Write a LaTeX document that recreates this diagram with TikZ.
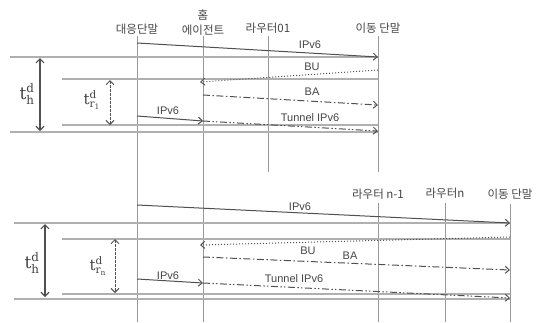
\documentclass[tikz,border=0pt]{standalone}
\usepackage{amsmath}
\usepackage[no-math]{fontspec}
\setmainfont{Liberation Sans}
\newfontfamily\kr{Noto Sans CJK KR}
\newfontfamily\dvs{DejaVu Serif}
\newcommand{\sv}[1]{\text{\dvs #1}}
\usetikzlibrary{arrows.meta}
\definecolor{txt}{HTML}{444444}
\definecolor{ln}{HTML}{999999}
\definecolor{hl}{HTML}{B0B0B0}
\definecolor{ar}{HTML}{505050}
\tikzset{
  hdr/.style={font=\kr\fontsize{11.5}{12}\selectfont, text=txt, inner sep=0pt},
  lbl/.style={font=\fontsize{11}{12}\selectfont, text=txt, inner sep=1pt},
  vline/.style={draw=ln, line width=1pt},
  hline/.style={draw=hl, line width=1.2pt},
  msg/.style={draw=ar, line width=1pt, -{Straight Barb[length=4pt,width=7pt]}},
  dotmsg/.style={msg, dotted},
  dashdot/.style={msg, dash pattern=on 7pt off 2.5pt on 1.5pt off 2.5pt},
  dashdotdot/.style={msg, dash pattern=on 7pt off 2.5pt on 1.5pt off 2pt on 1.5pt off 2.5pt},
  dbl/.style={draw=ar, line width=1.1pt, {Straight Barb[length=4pt,width=8pt]}-{Straight Barb[length=4pt,width=8pt]}},
  dbld/.style={dbl, line width=0.9pt, dash pattern=on 2.5pt off 1.5pt},
  tbig/.style={font=\fontsize{17}{18}\selectfont, text=txt, inner sep=0pt},
  tsml/.style={font=\fontsize{15}{16}\selectfont, text=txt, inner sep=0pt}
}
\begin{document}
\begin{tikzpicture}[x=1pt,y=-1pt]
\useasboundingbox (0,0) rectangle (547,322);
% ---------- headers top
\node[hdr] (cn) at (137,29) {대응단말};
\node[hdr] (ha1) at (203,15) {홈};
\node[hdr] (ha) at (203,30) {에이전트};
\node[hdr] (r01) at (268,28) {라우터01};
\node[hdr] (mn) at (378,28) {이동 단말};
% headers bottom
\node[hdr] (rn1) at (378,194) {라우터 n-1};
\node[hdr] (rn) at (445,193) {라우터n};
\node[hdr] (mn2) at (510,194) {이동 단말};
% ---------- vertical lines
\coordinate (cnT) at (137,36); \coordinate (cnB) at (137,322);
\coordinate (haT) at (203,36); \coordinate (haB) at (203,322);
\coordinate (r01T) at (268,36); \coordinate (r01B) at (268,172);
\coordinate (mnT) at (378,36); \coordinate (mnB) at (378,172);
\coordinate (rn1T) at (378,203); \coordinate (rn1B) at (378,322);
\coordinate (rnT) at (445,203); \coordinate (rnB) at (445,322);
\coordinate (mn2T) at (510,204); \coordinate (mn2B) at (510,322);
\draw[vline] (cnT) -- (cnB);
\draw[vline] (haT) -- (haB);
\draw[vline] (r01T) -- (r01B);
\draw[vline] (mnT) -- (mnB);
\draw[vline] (rn1T) -- (rn1B);
\draw[vline] (rnT) -- (rnB);
\draw[vline] (mn2T) -- (mn2B);
% ---------- horizontal lines top
\coordinate (h1a) at (10,57);  \coordinate (h1b) at (378,57);
\coordinate (h2a) at (62,79);  \coordinate (h2b) at (378,79);
\coordinate (h3a) at (62,125); \coordinate (h3b) at (378,125);
\coordinate (h4a) at (10,132); \coordinate (h4b) at (378,132);
\draw[hline] (h1a) -- (h1b);
\draw[hline] (h2a) -- (h2b);
\draw[hline] (h3a) -- (h3b);
\draw[hline] (h4a) -- (h4b);
% horizontal lines bottom
\coordinate (g1a) at (14,223);  \coordinate (g1b) at (510,223);
\coordinate (g2a) at (62,239);  \coordinate (g2b) at (510,239);
\coordinate (g3a) at (62,294);  \coordinate (g3b) at (510,294);
\coordinate (g4a) at (14,299);  \coordinate (g4b) at (510,299);
\draw[hline] (g1a) -- (g1b);
\draw[hline] (g2a) -- (g2b);
\draw[hline] (g3a) -- (g3b);
\draw[hline] (g4a) -- (g4b);
% ---------- messages top
\coordinate (a1s) at (137,43);  \coordinate (a1e) at (378,57);
\coordinate (a2s) at (378,70);  \coordinate (a2e) at (200,82);
\coordinate (a3s) at (203,95);  \coordinate (a3e) at (378,105);
\coordinate (a4s) at (137,116); \coordinate (a4e) at (203,121);
\coordinate (a5s) at (203,121); \coordinate (a5e) at (378,131);
\draw[msg] (a1s) -- (a1e);
\draw[dotmsg] (a2s) -- (a2e);
\draw[dashdot] (a3s) -- (a3e);
\draw[msg] (a4s) -- (a4e);
\draw[dashdotdot] (a5s) -- (a5e);
\node[lbl] (l1) at (310,45) {IPv6};
\node[lbl] (l2) at (312,67) {BU};
\node[lbl] (l3) at (312,92) {BA};
\node[lbl] (l4) at (168,111) {IPv6};
\node[lbl] (l5) at (310,118) {Tunnel IPv6};
% ---------- messages bottom
\coordinate (b1s) at (137,205); \coordinate (b1e) at (510,223);
\coordinate (b2s) at (510,237); \coordinate (b2e) at (200,245);
\coordinate (b3s) at (203,257); \coordinate (b3e) at (510,270);
\coordinate (b4s) at (137,279); \coordinate (b4e) at (203,283);
\coordinate (b5s) at (203,283); \coordinate (b5e) at (510,298);
\draw[msg] (b1s) -- (b1e);
\draw[dotmsg] (b2s) -- (b2e);
\draw[dashdot] (b3s) -- (b3e);
\draw[msg] (b4s) -- (b4e);
\draw[dashdotdot] (b5s) -- (b5e);
\node[lbl] (m1) at (300,207) {IPv6};
\node[lbl] (m2) at (308,251) {BU};
\node[lbl] (m3) at (350,256) {BA};
\node[lbl] (m4) at (168,276) {IPv6};
\node[lbl] (m5) at (294,279) {Tunnel IPv6};
% ---------- time spans
\coordinate (th1a) at (40,58);  \coordinate (th1b) at (40,131);
\coordinate (tr1a) at (110,80); \coordinate (tr1b) at (110,125);
\coordinate (th2a) at (45,224); \coordinate (th2b) at (45,297);
\coordinate (tr2a) at (115,239); \coordinate (tr2b) at (115,293);
\draw[dbl] (th1a) -- (th1b);
\draw[dbld] (tr1a) -- (tr1b);
\draw[dbl] (th2a) -- (th2b);
\draw[dbld] (tr2a) -- (tr2b);
\node[tbig] (t1) at (27,94) {$\sv{t}_{\sv{h}}^{\sv{d}}$};
\node[tsml] (t2) at (92,100) {$\sv{t}_{\sv{r}_{\sv{1}}}^{\sv{d}}$};
\node[tbig] (t3) at (32,263) {$\sv{t}_{\sv{h}}^{\sv{d}}$};
\node[tsml] (t4) at (98,266) {$\sv{t}_{\sv{r}_{\sv{n}}}^{\sv{d}}$};
\end{tikzpicture}
\end{document}
